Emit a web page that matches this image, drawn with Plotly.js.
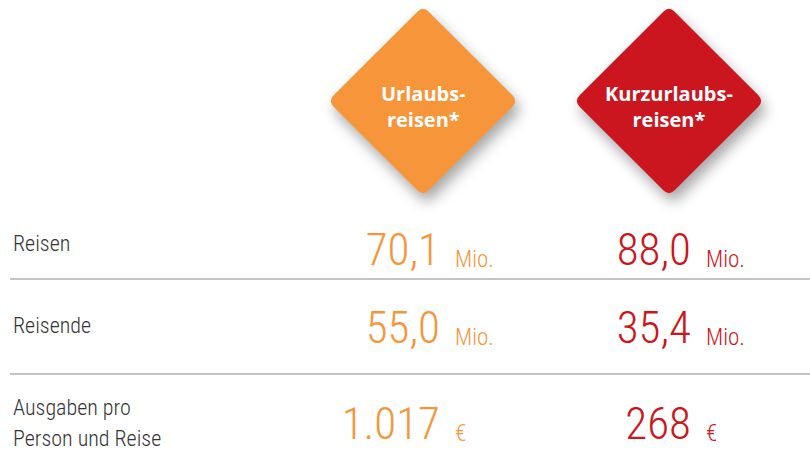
<!DOCTYPE html>
<html>
<head>
<meta charset="utf-8">
<script src="https://cdn.plot.ly/plotly-3.0.1.min.js"></script>
<style>
html,body{margin:0;padding:0;background:#fff;}
#chart{width:810px;height:449px;}
</style>
</head>
<body>
<div id="chart"></div>
<script>
// ---- data ----
const categories = ["Urlaubs-<br>reisen*", "Kurzurlaubs-<br>reisen*"];
const rowLabels = ["Reisen", "Reisende", "Ausgaben pro<br>Person und Reise"];
const urlaubValues = [70.1, 55.0, 1017];
const kurzValues = [88.0, 35.4, 268];
const decimals = [1, 1, 0];
const units = ["Mio.", "Mio.", "€"];

// ---- layout constants ----
const W = 810, H = 449;
const colors = ["#F6953A", "#CB1620"];
const diamondCx = [423, 669];
const diamondCy = 101, diamondH = 95, cornerD = 8;
const numRight = [440, 691];
const unitGap = 15;
const rowY = [254, 332, 428];
const labelY = [243, 325, 407];
const labelLineGap = 31;
const headY = 106;
const sepY = [279, 374];
const fam = "'Roboto Condensed', 'Open Sans', sans-serif";
const headFam = "'Open Sans', sans-serif";

function fmt(v, dec) {
  const s = v.toFixed(dec);
  let [ip, fp] = s.split(".");
  ip = ip.replace(/\B(?=(\d{3})+(?!\d))/g, ".");
  return fp ? ip + "," + fp : ip;
}

const series = [urlaubValues, kurzValues];
const traces = [];
series.forEach((vals, ci) => {
  traces.push({
    type: "scatter", mode: "text",
    x: vals.map(() => numRight[ci]), y: rowY,
    text: vals.map((v, i) => fmt(v, decimals[i])),
    textposition: "middle left",
    textfont: {family: fam, size: 45, color: colors[ci], weight: 300},
    hoverinfo: "skip", showlegend: false
  });
  traces.push({
    type: "scatter", mode: "text",
    x: vals.map(() => numRight[ci] + unitGap), y: rowY.map(y => y + 7),
    text: units,
    textposition: "middle right",
    textfont: {family: fam, size: 23, color: colors[ci], weight: 300},
    hoverinfo: "skip", showlegend: false
  });
});

function diamondPath(cx, cy, h, d) {
  const k = d / Math.SQRT2;
  const T = [cx, cy - h], R = [cx + h, cy], B = [cx, cy + h], L = [cx - h, cy];
  const p = (pt, dx, dy) => (pt[0] + dx) + "," + (pt[1] + dy);
  return "M" + p(T, -k, k) + " Q" + p(T, 0, 0) + " " + p(T, k, k) +
         " L" + p(R, -k, -k) + " Q" + p(R, 0, 0) + " " + p(R, -k, k) +
         " L" + p(B, k, -k) + " Q" + p(B, 0, 0) + " " + p(B, -k, -k) +
         " L" + p(L, k, k) + " Q" + p(L, 0, 0) + " " + p(L, k, -k) + " Z";
}

const shapes = [];
categories.forEach((c, i) => {
  shapes.push({type: "path", xref: "x", yref: "y", path: diamondPath(diamondCx[i], diamondCy, diamondH, cornerD),
    fillcolor: colors[i], line: {width: 0}, layer: "below"});
});
sepY.forEach(y => shapes.push({type: "line", xref: "x", yref: "y", x0: 10, x1: 810, y0: y, y1: y,
  line: {color: "#c4c4c4", width: 2}, layer: "below"}));

const annotations = [];
categories.forEach((c, i) => {
  annotations.push({x: diamondCx[i], y: headY, xref: "x", yref: "y", text: c, showarrow: false,
    xanchor: "center", yanchor: "middle", align: "center",
    font: {family: headFam, size: 20, color: "#ffffff", weight: 700}});
});
rowLabels.forEach((lab, i) => {
  lab.split("<br>").forEach((line, j) => {
    annotations.push({x: 11, y: labelY[i] + j * labelLineGap, xref: "x", yref: "y", text: line, showarrow: false,
      xanchor: "left", yanchor: "middle", align: "left",
      font: {family: fam, size: 22, color: "#333333", weight: 300}});
  });
});

const layout = {
  width: W, height: H,
  margin: {l: 0, r: 0, t: 0, b: 0},
  paper_bgcolor: "#ffffff", plot_bgcolor: "#ffffff",
  xaxis: {range: [0, W], visible: false, fixedrange: true},
  yaxis: {range: [H, 0], visible: false, fixedrange: true},
  shapes: shapes, annotations: annotations,
  hovermode: false, showlegend: false
};

Plotly.newPlot("chart", traces, layout, {staticPlot: true, displayModeBar: false}).then(() => {
  document.querySelectorAll(".shapelayer path").forEach(p => {
    const idx = parseInt(p.getAttribute("data-index"), 10);
    if (idx < categories.length) {
      p.style.filter = "drop-shadow(4px 8px 7px rgba(0,0,0,0.35))";
    }
  });
});
</script>
</body>
</html>
